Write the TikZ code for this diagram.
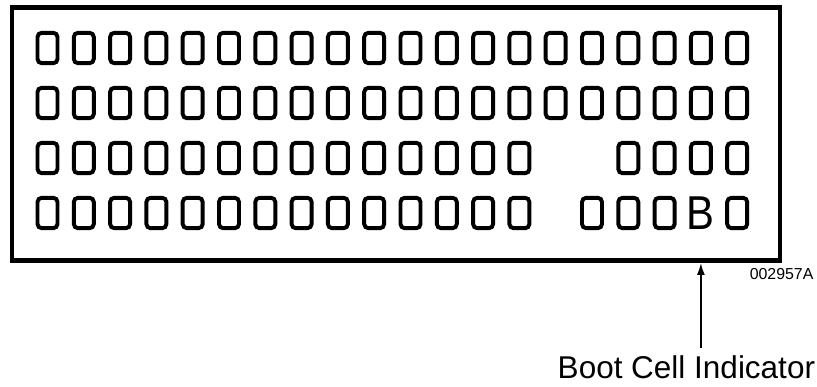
\documentclass[tikz,border=0pt]{standalone}
\usepackage{fontspec}
\setmainfont{Liberation Sans}
\usetikzlibrary{positioning,arrows.meta}

\begin{document}
\begin{tikzpicture}[
  cell/.style={draw, line width=2.8pt, rounded corners=3pt, minimum width=0.5cm, minimum height=0.76cm, inner sep=0pt},
  frame/.style={draw, line width=3.4pt, minimum width=19.2cm, minimum height=6.325cm, inner sep=0pt},
  arr/.style={-{Latex[length=3mm,width=2mm]}, line width=1.4pt}
]
  \useasboundingbox (0,0) rectangle (20.425,-9.675);

  % Display frame
  \node[frame] (display) at (9.9,-3.35) {};

  % ROWS 1-2: all 20 cells
  \foreach \r in {1,2}
    \foreach \c in {0,...,19}
      \node[cell] (c\r-\c) at ({1.1875+0.9075*\c}, {-1.2-1.375*(\r-1)}) {};

  % ROW 3: gap at 14-15
  \foreach \c in {0,...,13,16,17,18,19}
    \node[cell] (c3-\c) at ({1.1875+0.9075*\c}, -3.95) {};

  % ROW 4: gap at 14, boot cell at 18
  \foreach \c in {0,...,13,15,16,17,19}
    \node[cell] (c4-\c) at ({1.1875+0.9075*\c}, -5.325) {};
  \node[font=\fontsize{33.8}{36}\selectfont, inner sep=0pt, xscale=0.88] (bootcell) at ({1.1875+0.9075*18}, -5.325) {B};

  % Labels
  \node[font=\fontsize{11.3}{13}\selectfont, anchor=base, inner sep=0pt] (figid) at (19.54,-7.0) {002957A};
  \node[font=\fontsize{22.4}{26}\selectfont, anchor=base, inner sep=0pt] (indicator) at (17.16,-9.475) {Boot Cell Indicator};

  \draw[arr, shorten <=2mm] (indicator.north -| bootcell) -- (display.south -| bootcell);

\end{tikzpicture}
\end{document}
